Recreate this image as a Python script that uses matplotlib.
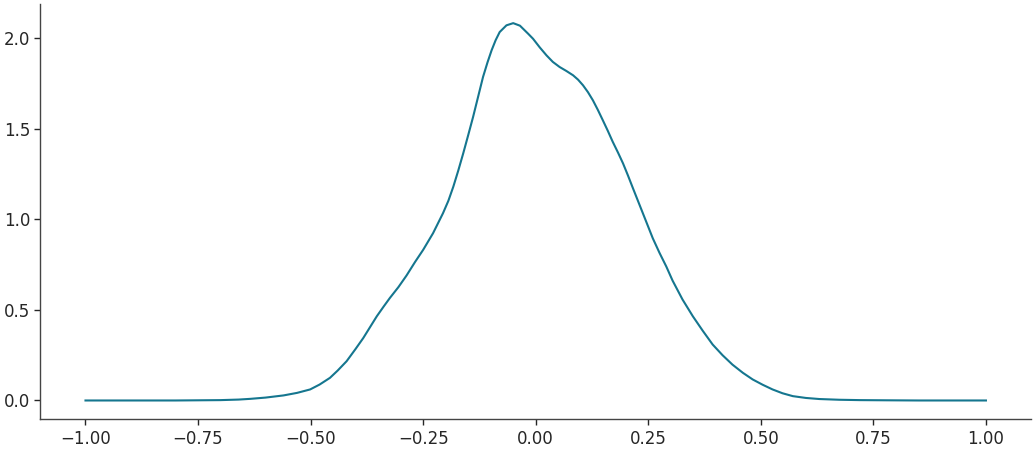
import matplotlib
matplotlib.use("Agg")
import matplotlib.pyplot as plt

x_vals = [-1.00, -0.90, -0.80, -0.75, -0.70, -0.66, -0.634, -0.60, -0.56, -0.53, -0.501, -0.48,
          -0.457, -0.44, -0.42, -0.40, -0.383, -0.368, -0.353, -0.338, -0.324, -0.305, -0.287,
          -0.268, -0.250, -0.228, -0.206, -0.194, -0.183, -0.172, -0.161, -0.150, -0.139,
          -0.128, -0.117, -0.107, -0.098, -0.089, -0.080, -0.065, -0.050, -0.035, -0.017,
          -0.006, 0.009, 0.024, 0.038, 0.053, 0.068, 0.083, 0.094, 0.105, 0.116, 0.127, 0.138,
          0.149, 0.160, 0.171, 0.183, 0.194, 0.205, 0.216, 0.227, 0.238, 0.249, 0.260, 0.275,
          0.290, 0.304, 0.326, 0.349, 0.371, 0.393, 0.415, 0.437, 0.46, 0.482, 0.504, 0.526,
          0.548, 0.571, 0.60, 0.63, 0.674, 0.72, 0.78, 0.85, 0.92, 1.00]
density = [0.000, 0.000, 0.000, 0.001, 0.002, 0.005, 0.009, 0.016, 0.028, 0.042, 0.061, 0.088,
           0.125, 0.165, 0.217, 0.285, 0.345, 0.405, 0.465, 0.518, 0.566, 0.626, 0.690,
           0.765, 0.832, 0.924, 1.034, 1.103, 1.181, 1.270, 1.365, 1.465, 1.567,
           1.677, 1.787, 1.868, 1.934, 1.990, 2.035, 2.072, 2.084, 2.070, 2.026,
           1.998, 1.950, 1.906, 1.870, 1.842, 1.820, 1.796, 1.772, 1.741, 1.703, 1.658, 1.605,
           1.548, 1.490, 1.429, 1.368, 1.309, 1.242, 1.172, 1.103, 1.034, 0.965, 0.896, 0.815,
           0.740, 0.662, 0.558, 0.465, 0.385, 0.309, 0.250, 0.198, 0.153, 0.116, 0.087, 0.061,
           0.040, 0.024, 0.014, 0.008, 0.004, 0.002, 0.001, 0.000, 0.000, 0.000]

fig = plt.figure(figsize=(10.35, 4.5), dpi=100)
ax = fig.add_axes([0.0391, 0.0682, 0.957, 0.923])
ax.plot(x_vals, density, color="#15768f", linewidth=1.5)
ax.set_xticks([-1.0, -0.75, -0.5, -0.25, 0.0, 0.25, 0.5, 0.75, 1.0])
ax.set_yticks([0.0, 0.5, 1.0, 1.5, 2.0])
ax.set_xlim(-1.1, 1.1)
ax.set_ylim(-0.104, 2.19)
for s in ["top", "right"]:
    ax.spines[s].set_visible(False)
for s in ["left", "bottom"]:
    ax.spines[s].set_color("#444444")
    ax.spines[s].set_linewidth(1.0)
ax.tick_params(axis="both", labelsize=12, colors="#262626", length=4, width=1.0)
fig.savefig("out.png", dpi=100)
